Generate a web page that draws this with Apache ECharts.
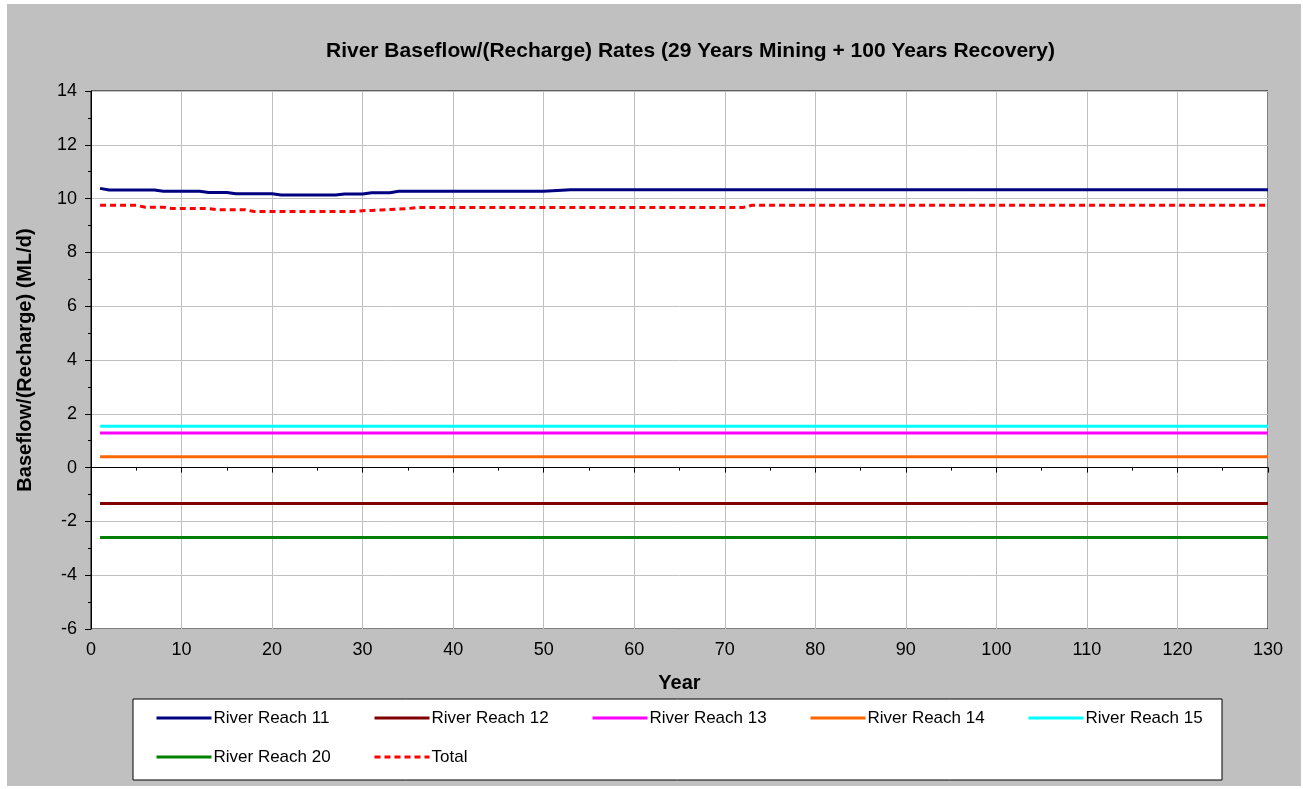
<!DOCTYPE html>
<html>
<head>
<meta charset="utf-8">
<script src="https://cdn.jsdelivr.net/npm/echarts@6/dist/echarts.min.js"></script>
<style>
  html, body { margin: 0; padding: 0; background: #fff; }
  #chart { position: absolute; left: 7px; top: 4px; width: 1294px; height: 782px; }
</style>
</head>
<body>
<div id="chart"></div>
<script>
// year breakpoints and values
const yearsFlat = [1, 130];
const years11 = [1, 2, 7, 8, 12, 13, 15, 16, 20, 21, 27, 28, 30, 31, 33, 34, 50, 53, 130];
const reach11 = [10.38, 10.32, 10.32, 10.27, 10.27, 10.23, 10.23, 10.18, 10.18, 10.13, 10.13, 10.17, 10.17, 10.22, 10.22, 10.27, 10.27, 10.33, 10.33];
const reach12 = [-1.33, -1.33];
const reach13 = [1.29, 1.29];
const reach14 = [0.40, 0.40];
const reach15 = [1.54, 1.54];
const reach20 = [-2.60, -2.60];
const yearsTotal = [1, 5, 6, 8, 9, 13, 14, 17, 18, 29, 30, 31, 32, 35, 36, 72, 73, 130];
const total = [9.75, 9.75, 9.68, 9.68, 9.63, 9.63, 9.59, 9.59, 9.52, 9.52, 9.55, 9.56, 9.58, 9.63, 9.67, 9.67, 9.75, 9.75];

const names = ['River Reach 11', 'River Reach 12', 'River Reach 13', 'River Reach 14', 'River Reach 15', 'River Reach 20', 'Total'];
const colors = ['#000080', '#800000', '#ff00ff', '#ff6600', '#00ffff', '#008000', '#ff0000'];

function pairs(xs, ys) {
  return xs.map((x, i) => [x, ys[i]]);
}

const seriesData = [
  pairs(years11, reach11),
  pairs(yearsFlat, reach12),
  pairs(yearsFlat, reach13),
  pairs(yearsFlat, reach14),
  pairs(yearsFlat, reach15),
  pairs(yearsFlat, reach20),
  pairs(yearsTotal, total)
];

const font = 'Liberation Sans, Arial, sans-serif';

// one legend per entry so the columns line up like the original
const legendLeft = [148, 366, 584, 802, 1020, 148, 366];
const legendTop = [704, 704, 704, 704, 704, 743, 743];
const legends = names.map((n, i) => ({
  left: legendLeft[i],
  top: legendTop[i],
  padding: 0,
  itemWidth: 55,
  itemHeight: 14,
  itemGap: 0,
  data: [n],
  selectedMode: false,
  itemStyle: { opacity: 0 },
  lineStyle: { width: 3 },
  textStyle: { fontFamily: font, fontSize: 17, lineHeight: 20, color: '#000', padding: [0, 0, 0, -3] }
}));

const chart = echarts.init(document.getElementById('chart'));

chart.setOption({
  backgroundColor: '#c0c0c0',
  animation: false,
  title: {
    text: 'River Baseflow/(Recharge) Rates (29 Years Mining + 100 Years Recovery)',
    left: 314,
    top: 32,
    textStyle: { fontFamily: font, fontSize: 21, fontWeight: 'bold', color: '#000' }
  },
  grid: {
    left: 84, right: 33, top: 87, bottom: 157,
    show: true, backgroundColor: '#fff', borderColor: '#000', borderWidth: 1
  },
  graphic: [{
    type: 'rect',
    shape: { x: 126, y: 695, width: 1089, height: 81 },
    style: { fill: '#fff', stroke: '#000', lineWidth: 1 },
    z: -1
  }],
  legend: legends,
  xAxis: {
    type: 'value',
    min: 0, max: 130, interval: 10,
    name: 'Year',
    nameLocation: 'middle',
    nameGap: 44,
    nameTextStyle: { fontFamily: font, fontSize: 20, fontWeight: 'bold', color: '#000' },
    axisLine: { lineStyle: { color: '#000', width: 1 } },
    axisTick: { show: true, length: 5, lineStyle: { color: '#000' } },
    minorTick: { show: true, splitNumber: 2, length: 3, lineStyle: { color: '#000' } },
    axisLabel: { fontFamily: font, fontSize: 18, color: '#000', margin: 12 },
    splitLine: { show: true, lineStyle: { color: '#c0c0c0', width: 1 } }
  },
  yAxis: {
    type: 'value',
    min: -6, max: 14, interval: 2,
    name: 'Baseflow/(Recharge) (ML/d)',
    nameLocation: 'middle',
    nameGap: 56,
    nameTextStyle: { fontFamily: font, fontSize: 20, fontWeight: 'bold', color: '#000' },
    axisLine: { show: true, lineStyle: { color: '#000', width: 1 } },
    axisTick: { show: true, length: 6, lineStyle: { color: '#000' } },
    minorTick: { show: true, splitNumber: 2, length: 3, lineStyle: { color: '#000' } },
    axisLabel: { fontFamily: font, fontSize: 18, color: '#000', margin: 14 },
    splitLine: { show: true, lineStyle: { color: '#c0c0c0', width: 1 } }
  },
  series: names.map((n, i) => ({
    name: n,
    type: 'line',
    data: seriesData[i],
    showSymbol: false,
    symbol: 'none',
    color: colors[i],
    lineStyle: n === 'Total'
      ? { color: colors[i], width: 3, type: [6, 4] }
      : { color: colors[i], width: 3 }
  }))
});
</script>
</body>
</html>
